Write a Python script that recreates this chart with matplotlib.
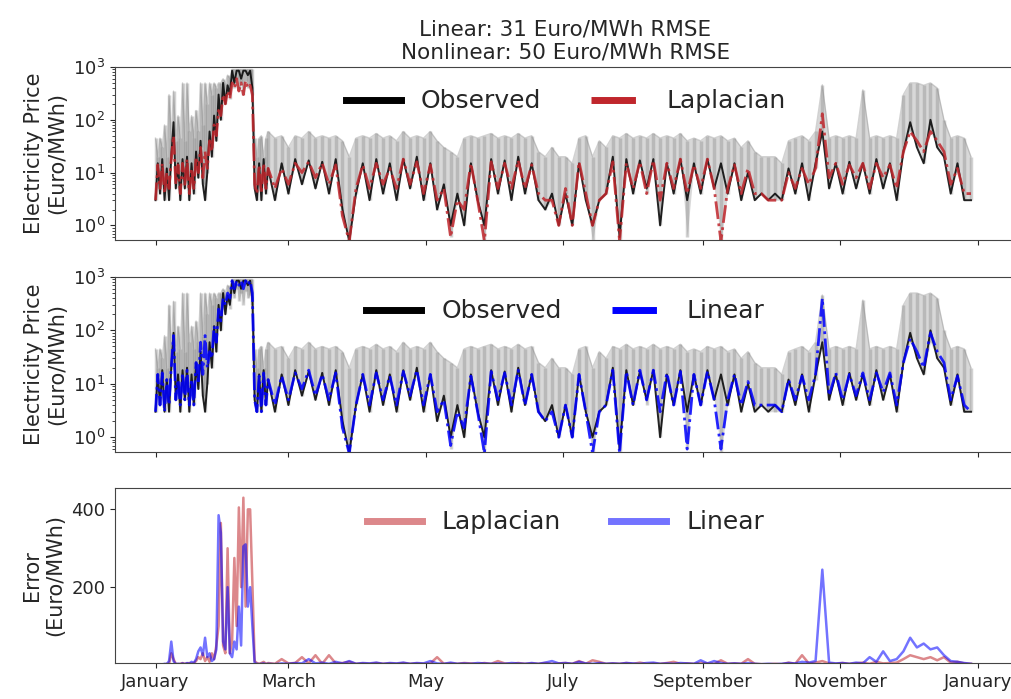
import numpy as np
import matplotlib
matplotlib.use("Agg")
import matplotlib.pyplot as plt
from matplotlib.lines import Line2D

# day of year: daily through mid February, every 3 days afterwards
days = list(range(0, 51)) + list(range(53, 363, 3))

observed = [3, 15, 4, 18, 3, 12, 3, 20, 90, 5,
            15, 3, 18, 5, 20, 3, 15, 4, 25, 8,
            40, 6, 3, 10, 60, 20, 120, 40, 300, 100,
            500, 200, 450, 300, 850, 500, 850, 850, 600, 850,
            850, 700, 850, 400, 5, 3, 15, 3, 18, 4,
            12,
            3, 15, 4, 18, 6, 17, 5, 16, 4, 18,
            2, 0.5, 4, 15, 3, 18, 4, 15, 3, 18,
            5, 20, 3, 15, 2, 6, 1, 4, 1, 15,
            3, 1, 18, 4, 17, 3, 20, 4, 15, 3,
            2, 4, 1, 4, 1, 15, 3, 1, 3, 4,
            20, 0.6, 18, 4, 17, 5, 18, 1, 15, 4,
            18, 3, 15, 4, 18, 5, 15, 4, 15, 3,
            10, 3, 4, 3, 4, 3, 12, 4, 15, 3,
            15, 60, 5, 15, 4, 16, 5, 15, 4, 18,
            5, 15, 3, 25, 90, 30, 15, 100, 30, 20,
            4, 15, 3, 3]

laplacian = [3, 14, 5, 15, 4, 10, 5, 18, 50, 6,
             14, 4, 15, 6, 18, 4, 12, 5, 20, 10,
             30, 8, 25, 12, 40, 25, 80, 50, 150, 120,
             300, 200, 350, 250, 500, 400, 600, 350, 500, 300,
             550, 400, 450, 300, 6, 4, 14, 4, 15, 5,
             12,
             5, 12, 6, 15, 10, 16, 8, 15, 6, 14,
             1.5, 0.5, 5, 14, 5, 15, 6, 12, 5, 18,
             6, 16, 4, 14, 3, 5, 0.6, 3, 2, 15,
             3, 0.5, 16, 5, 15, 5, 17, 5, 14, 4,
             3, 3, 1, 5, 1, 16, 4, 1, 3, 4,
             16, 0.5, 15, 5, 16, 4, 17, 3, 15, 5,
             18, 4, 14, 5, 18, 5, 0.5, 5, 14, 4,
             12, 4, 4, 3, 3, 3, 10, 5, 12, 6,
             12, 130, 8, 15, 6, 14, 8, 15, 5, 15,
             8, 14, 5, 25, 60, 40, 25, 60, 40, 25,
             6, 12, 4, 4]

linear = [3, 15, 4, 16, 3, 12, 4, 20, 80, 5,
          12, 4, 16, 5, 18, 4, 12, 4, 25, 10,
          60, 15, 80, 20, 40, 30, 120, 60, 250, 150,
          400, 300, 500, 400, 850, 600, 850, 700, 850, 600,
          850, 700, 850, 500, 5, 3, 14, 3, 16, 4,
          12,
          4, 14, 5, 16, 8, 18, 6, 15, 5, 16,
          1.5, 0.5, 4, 15, 4, 16, 5, 14, 4, 17,
          6, 18, 4, 15, 3, 5, 0.7, 3, 1.5, 14,
          3, 0.5, 17, 5, 16, 4, 18, 4, 15, 3,
          2, 3, 1, 4, 1, 15, 3, 0.5, 3, 4,
          18, 0.5, 17, 4, 18, 5, 18, 3, 16, 4,
          17, 0.6, 15, 4, 17, 5, 0.6, 5, 15, 4,
          11, 4, 4, 4, 4, 3, 12, 5, 14, 5,
          15, 400, 6, 16, 5, 15, 6, 16, 5, 16,
          7, 16, 4, 25, 70, 40, 20, 90, 40, 25,
          5, 14, 4, 3]

# upper edge of the grey ensemble band
ensemble_hi = [45, 20, 45, 30, 80, 20, 300, 45, 350, 40,
               120, 45, 500, 40, 500, 60, 120, 45, 150, 60,
               500, 80, 500, 200, 500, 300, 500, 400, 500, 500,
               600, 500, 700, 600, 900, 900, 900, 900, 900, 900,
               900, 900, 900, 900, 45, 20, 45, 50, 20, 45,
               60,
               45, 50, 30, 50, 45, 60, 45, 50, 45, 50,
               40, 20, 45, 50, 45, 55, 45, 50, 40, 60,
               45, 50, 45, 60, 40, 30, 25, 20, 45, 50,
               45, 50, 55, 45, 50, 45, 55, 45, 50, 25,
               20, 30, 20, 20, 15, 45, 50, 20, 40, 30,
               50, 45, 55, 45, 50, 45, 55, 45, 50, 45,
               55, 40, 45, 40, 50, 45, 50, 40, 45, 30,
               40, 25, 20, 20, 20, 15, 40, 45, 50, 40,
               60, 460, 45, 50, 45, 50, 45, 370, 45, 50,
               45, 50, 45, 300, 500, 500, 450, 500, 400, 100,
               45, 50, 45, 20]

err_laplacian = [1, 2, 1, 2, 1, 3, 2, 30, 15, 3,
                 2, 3, 5, 3, 4, 5, 3, 5, 10, 20,
                 15, 30, 10, 20, 8, 30, 15, 50, 100, 365,
                 50, 30, 300, 30, 60, 275, 100, 405, 200, 430,
                 150, 400, 400, 210, 10, 5, 3, 5, 8, 3,
                 5,
                 3, 15, 4, 5, 20, 4, 25, 3, 25, 4,
                 5, 8, 3, 4, 3, 5, 3, 4, 3, 5,
                 3, 4, 3, 4, 20, 3, 4, 3, 5, 4,
                 3, 5, 3, 10, 4, 3, 5, 3, 4, 3,
                 5, 3, 4, 5, 3, 10, 3, 12, 8, 3,
                 4, 3, 5, 3, 6, 3, 4, 3, 5, 8,
                 3, 4, 3, 5, 4, 3, 12, 3, 4, 3,
                 15, 3, 2, 2, 3, 2, 6, 3, 25, 4,
                 6, 10, 4, 3, 5, 3, 4, 6, 3, 8,
                 4, 5, 6, 15, 25, 20, 15, 20, 12, 20,
                 6, 8, 4, 3]

err_linear = [1, 1, 2, 1, 3, 2, 10, 60, 10, 2,
              3, 2, 4, 2, 5, 3, 8, 5, 15, 35,
              45, 25, 70, 20, 30, 10, 15, 40, 385, 340,
              60, 40, 200, 30, 20, 60, 40, 150, 50, 305,
              310, 150, 200, 100, 5, 3, 2, 3, 4, 2,
              3,
              2, 4, 3, 5, 4, 15, 4, 6, 3, 8,
              4, 10, 3, 5, 4, 6, 3, 5, 4, 6,
              3, 5, 4, 10, 4, 3, 6, 3, 4, 3,
              5, 4, 3, 4, 3, 5, 4, 3, 5, 3,
              6, 10, 4, 5, 3, 8, 4, 3, 5, 3,
              4, 3, 5, 4, 3, 5, 6, 3, 4, 3,
              5, 4, 3, 12, 4, 10, 5, 3, 4, 3,
              5, 3, 2, 3, 2, 3, 5, 4, 8, 6,
              10, 245, 6, 4, 5, 3, 6, 4, 20, 8,
              35, 10, 15, 35, 70, 45, 55, 40, 45, 25,
              10, 8, 5, 3]

month_days = [0, 59, 120, 181, 243, 304, 365]
month_names = ["January", "March", "May", "July", "September", "November", "January"]

days = np.array(days)
observed = np.array(observed)
ensemble_lo = np.minimum(observed, np.minimum(laplacian, linear))

plt.rcParams["text.color"] = "#262626"
plt.rcParams["axes.labelcolor"] = "#262626"
plt.rcParams["xtick.color"] = "#262626"
plt.rcParams["ytick.color"] = "#262626"

fig = plt.figure(figsize=(10.12, 6.99), dpi=100)
left, width = 0.1136, 0.8904
ax1 = fig.add_axes([left, 0.6567, width, 0.2475])
ax2 = fig.add_axes([left, 0.3534, width, 0.2504])
ax3 = fig.add_axes([left, 0.0515, width, 0.2504])

for ax, pred, col, name in [(ax1, laplacian, "#c0262c", "Laplacian"),
                            (ax2, linear, "blue", "Linear")]:
    # grey ensemble: light band plus vertical strands
    ax.fill_between(days, ensemble_lo, ensemble_hi, color="gray", alpha=0.3, lw=0)
    ax.vlines(days, ensemble_lo, ensemble_hi, color="gray", alpha=0.35, lw=2.5)
    ax.plot(days, ensemble_hi, color="gray", alpha=0.35, lw=1)
    ax.plot(days, observed, color="black", lw=1.4, alpha=0.85)
    ax.plot(days, pred, color=col, lw=2, ls="-.", alpha=0.85)
    ax.set_yscale("log")
    ax.set_ylim(0.53, 1000)
    ax.set_ylabel("Electricity Price\n(Euro/MWh)", fontsize=15)
    handles = [Line2D([], [], color="black", lw=5),
               Line2D([], [], color=col, lw=5, ls="-.")]
    ax.legend(handles, ["Observed", name], loc="upper center", ncol=2,
              frameon=False, fontsize=18, handlelength=2.2, columnspacing=2.0,
              borderaxespad=0.5)

ax3.plot(days, err_laplacian, color="#c0262c", alpha=0.55, lw=1.8)
ax3.plot(days, err_linear, color="blue", alpha=0.55, lw=1.8)
ax3.set_ylim(5, 455)
ax3.set_yticks([200, 400])
ax3.set_ylabel("Error\n(Euro/MWh)", fontsize=15)
ax3.legend([Line2D([], [], color="#c0262c", alpha=0.55, lw=5),
            Line2D([], [], color="blue", alpha=0.55, lw=5)],
           ["Laplacian", "Linear"], loc="upper center", ncol=2, frameon=False,
           fontsize=18, handlelength=2.2, columnspacing=2.0, borderaxespad=0.5)

for ax in (ax1, ax2, ax3):
    ax.set_xlim(-18, 382)
    ax.set_xticks(month_days)
    ax.tick_params(labelsize=13)
    for s in ax.spines.values():
        s.set_color("#444444")
ax1.set_xticklabels([])
ax2.set_xticklabels([])
ax3.set_xticklabels(month_names)

ax1.set_title("Linear: 31 Euro/MWh RMSE\nNonlinear: 50 Euro/MWh RMSE",
              fontsize=15.5, pad=6)

fig.savefig("out.png", dpi=100)
